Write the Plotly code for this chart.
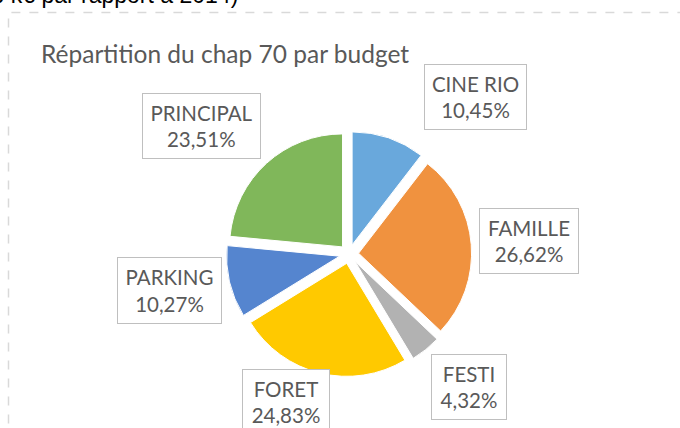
import plotly.graph_objects as go

# Data
labels = ["CINE RIO", "FAMILLE", "FESTI", "FORET", "PARKING", "PRINCIPAL"]
values = [10.45, 26.62, 4.32, 24.83, 10.27, 23.51]
colors = ["#69A8DC", "#F0923F", "#B2B2B2", "#FFC900", "#5585CF", "#80B75A"]
title_text = "Répartition du chap 70 par budget"
top_text = "Hausse de 3,6 k€ par rapport à 2014)"

W, H = 680, 428

def px_x(x):
    return x / W

def px_y(y):
    return (H - y) / H

# pie geometry (pixels)
cx, cy, r, pull = 349, 254, 113, 0.085
half = r * (1 + pull)

fig = go.Figure(go.Pie(
    labels=labels,
    values=values,
    sort=False,
    direction="clockwise",
    rotation=0,
    pull=[pull] * len(values),
    marker=dict(colors=colors, line=dict(color="white", width=1)),
    textinfo="none",
    hoverinfo="label+percent",
    showlegend=False,
    domain=dict(x=[px_x(cx - half), px_x(cx + half)],
                y=[px_y(cy + half), px_y(cy - half)]),
))

# label boxes: center x, center y, width, height (pixels)
boxes = [
    (475.5, 97, 103, 66),
    (529, 241, 100, 66),
    (469, 387, 76, 66),
    (286, 402, 88, 66),
    (169.5, 290.5, 105, 67),
    (201.5, 126, 119, 66),
]

annotations = []
for lab, val, (bx, by, bw, bh) in zip(labels, values, boxes):
    txt = f"{lab}<br>{val:.2f}".replace(".", ",") + "%"
    annotations.append(dict(
        text=txt, x=px_x(bx), y=px_y(by), xref="paper", yref="paper",
        xanchor="center", yanchor="middle", showarrow=False,
        width=bw - 2, height=bh - 2, borderpad=0,
        bordercolor="#BFBFBF", borderwidth=1, bgcolor="white",
        font=dict(family="Lato", size=20.5, color="#595959"),
        align="center",
    ))

annotations.append(dict(
    text=title_text, x=px_x(225), y=px_y(54), xref="paper", yref="paper",
    xanchor="center", yanchor="middle", showarrow=False,
    font=dict(family="Lato", size=24.5, color="#595959"),
))

annotations.append(dict(
    text=top_text, x=px_x(240), y=px_y(-5), xref="paper", yref="paper",
    xanchor="right", yanchor="middle", showarrow=False,
    font=dict(family="Liberation Sans", size=23, color="black"),
))

fig.update_layout(
    width=W, height=H,
    margin=dict(l=0, r=0, t=0, b=0),
    paper_bgcolor="white",
    plot_bgcolor="white",
    annotations=annotations,
    shapes=[dict(type="rect", xref="paper", yref="paper",
                 x0=px_x(8.5), x1=1.05, y0=-0.05, y1=px_y(12.5),
                 line=dict(color="#D9D9D9", width=1.5, dash="dash"),
                 fillcolor="rgba(0,0,0,0)", layer="below")],
)

fig.write_html("out.html", config={"displayModeBar": False},
               post_script="document.body.style.margin='0';document.body.style.padding='0';")
